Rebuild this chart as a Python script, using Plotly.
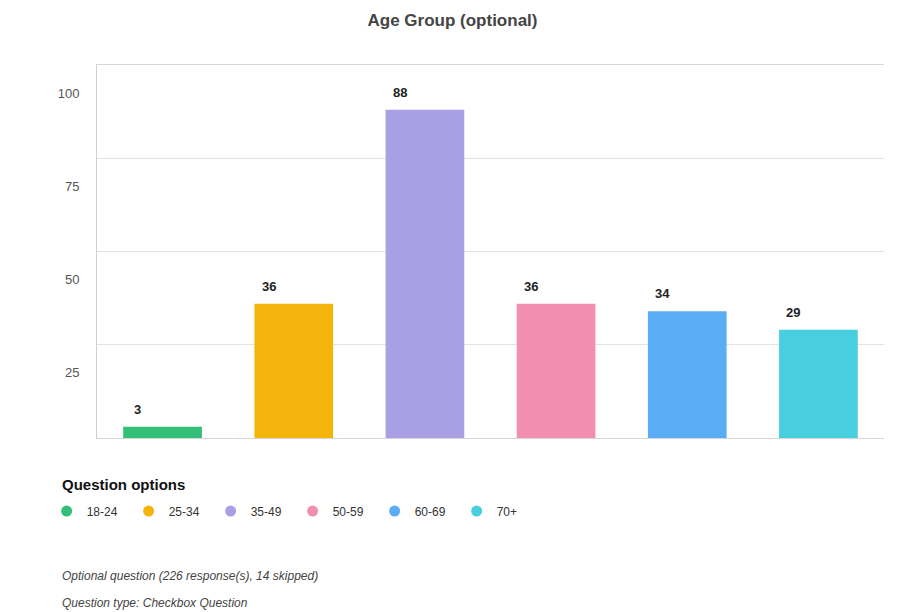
import plotly.graph_objects as go

categories = ["18-24", "25-34", "35-49", "50-59", "60-69", "70+"]
values = [3, 36, 88, 36, 34, 29]
colors = ["#33bf78", "#f3b40b", "#a99fe5", "#f28fb0", "#5aadf5", "#47cfdf"]
y_ticks = [25, 50, 75, 100]
title_text = "Age Group (optional)"
legend_title = "Question options"
footnotes = ["Optional question (226 response(s), 14 skipped)",
             "Question type: Checkbox Question"]

FONT = "Liberation Sans, Arial, Helvetica, sans-serif"

fig = go.Figure()
fig.add_trace(go.Bar(
    x=categories, y=values, marker=dict(color=colors, line=dict(width=0)),
    showlegend=False, hoverinfo="x+y",
))
for c, col in zip(categories, colors):
    fig.add_trace(go.Scatter(
        x=[None], y=[None], mode="markers", name=c,
        marker=dict(color=col, size=11, symbol="circle"),
    ))

for c, v in zip(categories, values):
    fig.add_annotation(
        x=c, y=v, xref="x", yref="y", text=f"<b>{v}</b>", showarrow=False,
        yanchor="bottom", xanchor="center", xshift=-25, yshift=8,
        font=dict(size=13, color="#222", family=FONT),
    )

fig.add_annotation(xref="paper", yref="paper", x=-0.047, y=-0.126,
                   xanchor="left", yanchor="middle", showarrow=False,
                   text=f"<b>{legend_title}</b>",
                   font=dict(size=15, color="#111", family=FONT))

fig.add_annotation(xref="paper", yref="paper", x=-0.047, y=-0.37,
                   xanchor="left", yanchor="middle", showarrow=False,
                   text=f"<i>{footnotes[0]}</i>",
                   font=dict(size=12, color="#444", family=FONT))
fig.add_annotation(xref="paper", yref="paper", x=-0.047, y=-0.443,
                   xanchor="left", yanchor="middle", showarrow=False,
                   text=f"<i>{footnotes[1]}</i>",
                   font=dict(size=12, color="#444", family=FONT))

fig.update_layout(
    width=916, height=612,
    margin=dict(l=97, r=32, t=65, b=174),
    paper_bgcolor="white", plot_bgcolor="white",
    font=dict(family=FONT, color="#444"),
    title=dict(text=f"<b>{title_text}</b>", x=0.494, xanchor="center",
               y=0.967, yanchor="middle",
               font=dict(size=17, color="#444", family=FONT)),
    bargap=0.4,
    legend=dict(
        orientation="h", x=-0.064, xanchor="left", y=-0.196, yanchor="middle",
        font=dict(size=12, color="#333", family=FONT),
        entrywidth=37, entrywidthmode="pixels",
        itemwidth=30, tracegroupgap=0,
    ),
    xaxis=dict(showticklabels=False, showgrid=False, showline=True,
               mirror=True,
               linecolor="#d6d6d6", linewidth=1, ticks="", zeroline=False),
    yaxis=dict(range=[0, 100], tickvals=y_ticks, showgrid=True,
               gridcolor="#e3e3e3", gridwidth=1, showline=True,
               linecolor="#cfcfcf", linewidth=1, zeroline=False, ticks="",
               ticklabelshift=28, ticklabelstandoff=14,
               tickfont=dict(size=13, color="#555", family=FONT)),
)

fig.write_html("out.html")
